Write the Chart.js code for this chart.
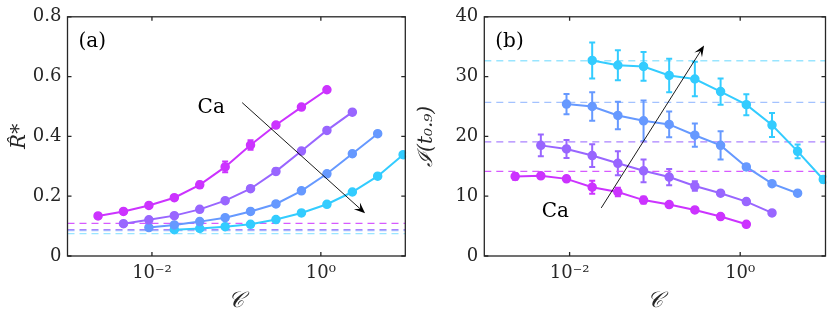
<!DOCTYPE html>
<html>
<head>
<meta charset="utf-8">
<script src="https://cdn.jsdelivr.net/npm/chart.js@4.4.1/dist/chart.umd.min.js"></script>
<style>
    html, body { margin: 0; padding: 0; background: #fff; }
    #wrap { position: relative; width: 831px; height: 315px; }
    .panel { position: absolute; top: 0; height: 315px; }
    #panel-a { left: 0; width: 415px; }
    #panel-b { left: 415px; width: 416px; }
</style>
</head>
<body>
<div id="wrap">
    <div class="panel" id="panel-a"><canvas id="chart-a" width="415" height="315"></canvas></div>
    <div class="panel" id="panel-b"><canvas id="chart-b" width="416" height="315"></canvas></div>
</div>
<script>
// --- DATA ---
// C values shared by all series (each series uses 10 consecutive ones)
const cValues = [0.0023, 0.0046, 0.0092, 0.0184, 0.0368, 0.0736, 0.147, 0.294, 0.589, 1.18, 2.36, 4.71, 9.42];
const caLabels = ['Ca 1', 'Ca 2', 'Ca 3', 'Ca 4'];
const seriesStart = [0, 1, 2, 3];
const xTickValues = [0.01, 1];

// panel (a): R*
const rMagenta = [0.134, 0.149, 0.169, 0.195, 0.238, 0.298, 0.371, 0.438, 0.498, 0.556];
const rPurple  = [0.108, 0.121, 0.135, 0.156, 0.185, 0.225, 0.283, 0.351, 0.420, 0.481];
const rBlue    = [0.095, 0.104, 0.115, 0.128, 0.149, 0.174, 0.218, 0.275, 0.342, 0.409];
const rCyan    = [0.088, 0.092, 0.098, 0.106, 0.122, 0.144, 0.173, 0.214, 0.267, 0.339];
const rErrMagenta = [0.003, 0.003, 0.004, 0.008, 0.010, 0.018, 0.016, 0.006, 0.004, 0.003];
const rErrPurple  = [0.003, 0.003, 0.003, 0.005, 0.006, 0.008, 0.010, 0.006, 0.004, 0.003];
const rErrBlue    = [0.003, 0.003, 0.003, 0.004, 0.004, 0.005, 0.006, 0.006, 0.006, 0.004];
const rErrCyan    = [0.003, 0.003, 0.003, 0.003, 0.004, 0.004, 0.005, 0.006, 0.006, 0.006];
const rBaseline   = [0.109, 0.088, 0.085, 0.075];

// panel (b): I(t_0.9)
const iMagenta = [13.3, 13.4, 12.9, 11.5, 10.7, 9.35, 8.6, 7.7, 6.6, 5.3];
const iPurple  = [18.5, 17.9, 16.8, 15.5, 14.25, 13.2, 11.7, 10.5, 9.1, 7.2];
const iBlue    = [25.4, 25.0, 23.5, 22.6, 22.0, 20.2, 18.5, 14.9, 12.1, 10.5];
const iCyan    = [32.7, 31.9, 31.7, 30.2, 29.6, 27.5, 25.3, 21.9, 17.5, 12.8];
const iErrMagenta = [0.55, 0.3, 0.35, 1.1, 0.7, 0.55, 0.4, 0.3, 0.2, 0.2];
const iErrPurple  = [1.8, 1.5, 1.9, 2.0, 1.9, 1.35, 0.8, 0.3, 0.3, 0.3];
const iErrBlue    = [1.7, 2.4, 2.3, 3.4, 2.15, 1.95, 2.35, 0.5, 0.3, 0.3];
const iErrCyan    = [3.0, 2.5, 2.4, 2.8, 2.9, 2.2, 1.75, 2.0, 1.15, 0.5];
const iBaseline   = [14.15, 19.1, 25.7, 32.65];

// --- STYLE ---
const colors = ['rgb(204,51,255)', 'rgb(153,102,255)', 'rgb(102,153,255)', 'rgb(51,204,255)'];
const dashColors = ['rgb(214,90,255)', 'rgb(170,130,255)', 'rgba(102,153,255,0.6)', 'rgba(51,204,255,0.5)'];
const axisColor = '#262626';
const serif = "'DejaVu Serif', 'Liberation Serif', serif";

// build datasets for one panel
function buildDatasets(series, errors, baselines) {
    const sets = [];
    baselines.forEach((b, k) => {
        sets.push({
            label: caLabels[k] + ' (bulk)',
            data: [{ x: 0.001, y: b }, { x: 10, y: b }],
            borderColor: dashColors[k],
            borderWidth: 1.3,
            borderDash: [7, 5],
            pointRadius: 0,
            order: 10
        });
    });
    series.forEach((vals, k) => {
        const xs = cValues.slice(seriesStart[k], seriesStart[k] + vals.length);
        sets.push({
            label: caLabels[k],
            data: vals.map((v, i) => ({ x: xs[i], y: v })),
            errors: errors[k],
            borderColor: colors[k],
            backgroundColor: colors[k],
            borderWidth: 2,
            pointRadius: 4,
            pointBorderWidth: 1.5,
            pointBackgroundColor: colors[k],
            pointBorderColor: colors[k],
            order: 1
        });
    });
    return sets;
}

// --- PLUGINS ---
const errorBarPlugin = {
    id: 'errorBars',
    beforeDatasetsDraw(chart) {
        const { ctx, scales: { x, y } } = chart;
        ctx.save();
        chart.data.datasets.forEach(ds => {
            if (!ds.errors) return;
            ctx.strokeStyle = ds.borderColor;
            ctx.lineWidth = 2;
            ds.data.forEach((p, i) => {
                const e = ds.errors[i];
                const px = x.getPixelForValue(p.x);
                const top = y.getPixelForValue(p.y + e);
                const bot = y.getPixelForValue(p.y - e);
                ctx.beginPath();
                ctx.moveTo(px, top); ctx.lineTo(px, bot);
                ctx.moveTo(px - 3, top); ctx.lineTo(px + 3, top);
                ctx.moveTo(px - 3, bot); ctx.lineTo(px + 3, bot);
                ctx.stroke();
            });
        });
        ctx.restore();
    }
};

function drawArrow(ctx, x0, y0, x1, y1) {
    const ang = Math.atan2(y1 - y0, x1 - x0);
    const len = 11, half = 4.5;
    ctx.beginPath();
    ctx.moveTo(x0, y0);
    ctx.lineTo(x1 - Math.cos(ang) * 6, y1 - Math.sin(ang) * 6);
    ctx.stroke();
    ctx.beginPath();
    ctx.moveTo(x1, y1);
    ctx.lineTo(x1 - len * Math.cos(ang) + half * Math.sin(ang), y1 - len * Math.sin(ang) - half * Math.cos(ang));
    ctx.lineTo(x1 - 0.6 * len * Math.cos(ang), y1 - 0.6 * len * Math.sin(ang));
    ctx.lineTo(x1 - len * Math.cos(ang) - half * Math.sin(ang), y1 - len * Math.sin(ang) + half * Math.cos(ang));
    ctx.closePath();
    ctx.fill();
}

const framePlugin = {
    id: 'frame',
    afterDraw(chart, args, opts) {
        const { ctx, chartArea: a, scales: { x, y } } = chart;
        ctx.save();
        ctx.strokeStyle = axisColor;
        ctx.lineWidth = 1.3;
        ctx.strokeRect(a.left, a.top, a.right - a.left, a.bottom - a.top);
        // ticks pointing inward, on all four sides
        ctx.beginPath();
        y.ticks.forEach(t => {
            const py = y.getPixelForValue(t.value);
            ctx.moveTo(a.left, py); ctx.lineTo(a.left + 4, py);
            ctx.moveTo(a.right, py); ctx.lineTo(a.right - 4, py);
        });
        x.ticks.forEach(t => {
            const px = x.getPixelForValue(t.value);
            ctx.moveTo(px, a.bottom); ctx.lineTo(px, a.bottom - 4);
            ctx.moveTo(px, a.top); ctx.lineTo(px, a.top + 4);
        });
        ctx.stroke();

        // Ca arrow
        ctx.strokeStyle = '#000';
        ctx.fillStyle = '#000';
        ctx.lineWidth = 0.9;
        drawArrow(ctx, x.getPixelForValue(opts.arrow[0]), y.getPixelForValue(opts.arrow[1]),
                       x.getPixelForValue(opts.arrow[2]), y.getPixelForValue(opts.arrow[3]));

        ctx.font = '20px ' + serif;
        ctx.textAlign = 'center';
        ctx.textBaseline = 'middle';
        ctx.fillText('Ca', x.getPixelForValue(opts.caAt[0]), y.getPixelForValue(opts.caAt[1]));

        ctx.textAlign = 'left';
        ctx.fillText(opts.tag, a.left + 11, a.top + 25);
        ctx.restore();
    }
};

// --- CHART SETUP ---
function makeOptions(cfg) {
    return {
        responsive: false,
        animation: false,
        devicePixelRatio: 1,
        layout: { padding: { top: 10, right: cfg.padRight, left: 0, bottom: 0 } },
        plugins: {
            legend: { display: false },
            tooltip: { enabled: false },
            frame: cfg.frame
        },
        scales: {
            x: {
                type: 'logarithmic',
                min: 0.001,
                max: 10,
                afterBuildTicks: s => { s.ticks = xTickValues.map(v => ({ value: v })); },
                afterFit: s => { s.height = 59; },
                grid: { display: false, drawTicks: false },
                border: { display: false },
                ticks: {
                    autoSkip: false,
                    maxRotation: 0,
                    padding: 7,
                    color: axisColor,
                    font: { family: serif, size: 18 },
                    callback: v => Math.round(Math.log10(v)) === 0 ? '10⁰' : '10⁻²'
                },
                title: {
                    display: true,
                    text: '𝒞',
                    color: axisColor,
                    padding: { top: 0, bottom: 1 },
                    font: { family: serif, size: 22, style: 'italic' }
                }
            },
            y: {
                min: 0,
                max: cfg.yMax,
                afterFit: s => { s.width = cfg.yWidth; },
                grid: { display: false, drawTicks: false },
                border: { display: false },
                ticks: {
                    stepSize: cfg.yStep,
                    padding: 6,
                    color: axisColor,
                    font: { family: serif, size: 18 },
                    callback: cfg.yFormat
                },
                title: {
                    display: true,
                    text: cfg.yTitle,
                    color: axisColor,
                    padding: cfg.yTitlePad,
                    font: { family: serif, size: 20, style: 'italic' }
                }
            }
        }
    };
}

function drawCharts() {
    new Chart(document.getElementById('chart-a'), {
        type: 'line',
        data: { datasets: buildDatasets([rMagenta, rPurple, rBlue, rCyan], [rErrMagenta, rErrPurple, rErrBlue, rErrCyan], rBaseline) },
        options: makeOptions({
            padRight: 9.7,
            yWidth: 67.5,
            yMax: 0.8,
            yStep: 0.2,
            yFormat: v => v === 0 ? '0' : v.toFixed(1),
            yTitle: 'R̂*',
            yTitlePad: { top: 8, bottom: 0 },
            frame: { tag: '(a)', arrow: [0.117, 0.513, 3.34, 0.143], caAt: [0.0503, 0.497] }
        }),
        plugins: [errorBarPlugin, framePlugin]
    });

    new Chart(document.getElementById('chart-b'), {
        type: 'line',
        data: { datasets: buildDatasets([iMagenta, iPurple, iBlue, iCyan], [iErrMagenta, iErrPurple, iErrBlue, iErrCyan], iBaseline) },
        options: makeOptions({
            padRight: 1.7,
            yWidth: 69.3,
            yMax: 40,
            yStep: 10,
            yFormat: v => String(v),
            yTitle: 'ℐ(t̂₀.₉)',
            yTitlePad: { top: 0, bottom: 0 },
            frame: { tag: '(b)', arrow: [0.0235, 8.04, 0.377, 35.2], caAt: [0.0068, 7.4] }
        }),
        plugins: [errorBarPlugin, framePlugin]
    });
}

// make sure the serif face is ready before the canvases draw text
Promise.all([
    document.fonts.load("18px 'DejaVu Serif'"),
    document.fonts.load("italic 20px 'DejaVu Serif'")
]).then(drawCharts, drawCharts);
</script>
</body>
</html>
